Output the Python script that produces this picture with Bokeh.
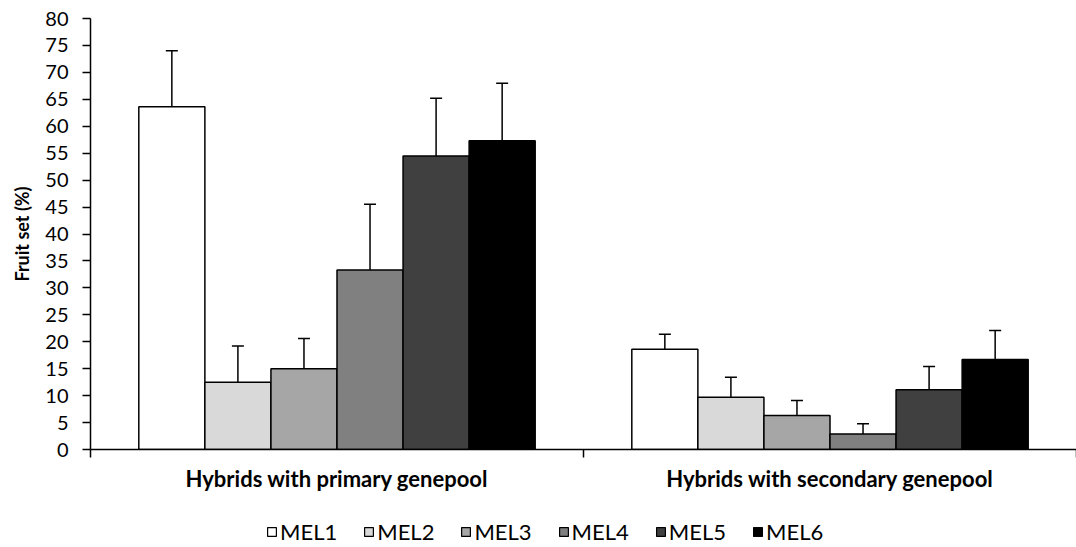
from bokeh.plotting import figure
from bokeh.layouts import column
from bokeh.models import (ColumnDataSource, Range1d, LinearAxis, FixedTicker,
                          Whisker, TeeHead, Legend, LegendItem, SingleIntervalTicker)
from bokeh.transform import dodge
from bokeh.embed import file_html
from bokeh.resources import INLINE

groups = ["Hybrids with primary genepool", "Hybrids with secondary genepool"]
series = ["MEL1", "MEL2", "MEL3", "MEL4", "MEL5", "MEL6"]
colors = ["#ffffff", "#d9d9d9", "#a6a6a6", "#808080", "#404040", "#000000"]

mel1 = [63.6, 18.6]
mel2 = [12.5, 9.7]
mel3 = [15.0, 6.3]
mel4 = [33.3, 2.9]
mel5 = [54.5, 11.1]
mel6 = [57.3, 16.7]
means = [mel1, mel2, mel3, mel4, mel5, mel6]

err1 = [10.4, 2.8]
err2 = [6.7, 3.7]
err3 = [5.6, 2.8]
err4 = [12.2, 1.9]
err5 = [10.7, 4.3]
err6 = [10.7, 5.4]
errs = [err1, err2, err3, err4, err5, err6]

y_ticks_step = 5
y_max = 80

FONT = "Lato"

ng = len(groups)
centers = [i + 0.5 for i in range(ng)]

p = figure(width=1076, height=500, x_range=Range1d(0, ng),
           y_range=Range1d(0, y_max), output_backend="svg", toolbar_location=None,
           x_axis_location=None, y_axis_location=None,
           min_border_left=90, min_border_right=0, min_border_top=18, min_border_bottom=51)
p.outline_line_color = None
p.xgrid.grid_line_color = None
p.ygrid.grid_line_color = None
p.background_fill_color = "white"
p.border_fill_color = "white"

yaxis = LinearAxis(ticker=SingleIntervalTicker(interval=y_ticks_step),
                   axis_label="Fruit set (%)")
yaxis.axis_line_width = 1.5
yaxis.axis_line_color = "black"
yaxis.major_tick_line_width = 1.5
yaxis.major_tick_line_color = "black"
yaxis.major_tick_out = 8
yaxis.major_tick_in = 0
yaxis.minor_tick_line_color = None
yaxis.major_label_standoff = 14
yaxis.major_label_text_font = FONT
yaxis.major_label_text_font_size = "20px"
yaxis.major_label_text_color = "black"
yaxis.axis_label_text_font = FONT
yaxis.axis_label_text_font_style = "bold"
yaxis.axis_label_text_font_size = "18px"
yaxis.axis_label_text_color = "black"
yaxis.axis_label_standoff = 9
p.add_layout(yaxis, "left")

xaxis = LinearAxis(ticker=FixedTicker(ticks=centers, minor_ticks=list(range(ng + 1))),
                   major_label_overrides={c: g for c, g in zip(centers, groups)})
xaxis.axis_line_width = 1.5
xaxis.axis_line_color = "black"
xaxis.major_tick_line_color = None
xaxis.minor_tick_line_color = "black"
xaxis.minor_tick_line_width = 1.5
xaxis.minor_tick_out = 8
xaxis.minor_tick_in = 0
xaxis.major_tick_out = 0
xaxis.major_tick_in = 0
xaxis.major_label_standoff = 7
xaxis.major_label_text_font = FONT
xaxis.major_label_text_font_style = "bold"
xaxis.major_label_text_font_size = "22px"
xaxis.major_label_text_color = "black"
p.add_layout(xaxis, "below")

data = {"gx": centers}
for s, m, e in zip(series, means, errs):
    data[s] = m
    data[s + "_hi"] = [a + b for a, b in zip(m, e)]
source = ColumnDataSource(data)

n = len(series)
bar_w = 0.134
for i, (s, c) in enumerate(zip(series, colors)):
    off = (i - (n - 1) / 2) * bar_w
    p.vbar(x=dodge("gx", off), top=s, width=bar_w, bottom=0,
           source=source, fill_color=c, line_color="black", line_width=1.5)
    w = Whisker(base=dodge("gx", off), upper=s + "_hi", lower=s,
                source=source, line_color="black", line_width=1.5,
                upper_head=TeeHead(size=12, line_color="black", line_width=1.5),
                lower_head=None)
    p.add_layout(w)

# legend strip below the chart (swatch renderers are hidden; only the legend shows them)
lf = figure(width=1076, height=47, output_backend="svg", toolbar_location=None,
            x_axis_location=None, y_axis_location=None,
            x_range=Range1d(0, 1), y_range=Range1d(0, 1),
            min_border_left=0, min_border_right=0, min_border_top=0, min_border_bottom=0)
lf.outline_line_color = None
lf.xgrid.grid_line_color = None
lf.ygrid.grid_line_color = None
swatch_src = ColumnDataSource({"x": [0.5], "top": [0.5]})
items = []
for s, c in zip(series, colors):
    r = lf.vbar(x="x", top="top", width=0.1, source=swatch_src,
                fill_color=c, line_color="black", line_width=1.2, visible=False)
    items.append(LegendItem(label=s, renderers=[r]))

legend = Legend(items=items, orientation="horizontal", location=(176, 2))
legend.glyph_width = 11
legend.glyph_height = 11
legend.label_standoff = 3
legend.spacing = 26
legend.padding = 0
legend.margin = 0
legend.border_line_color = None
legend.background_fill_alpha = 0
legend.label_text_font = FONT
legend.label_text_font_size = "22px"
legend.label_text_color = "black"
lf.add_layout(legend, "center")

layout = column(p, lf, spacing=0)
open("out.html", "w").write(file_html(layout, INLINE))
